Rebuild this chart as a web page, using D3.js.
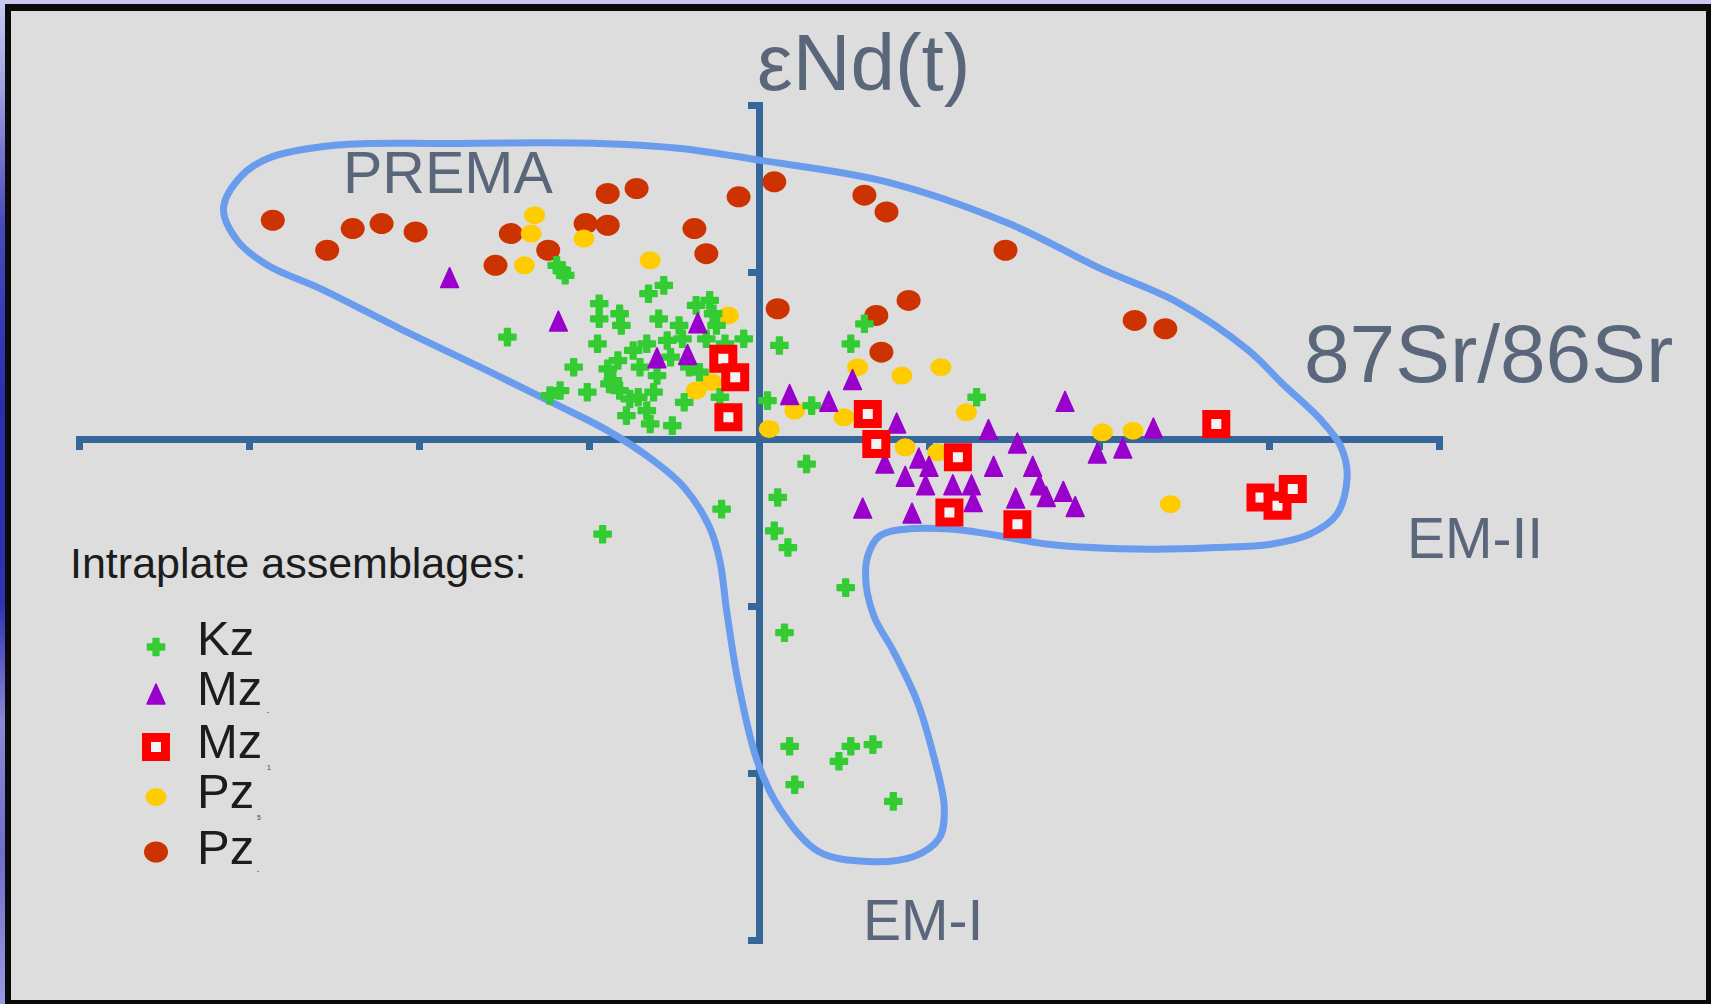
<!DOCTYPE html>
<html>
<head>
<meta charset="utf-8">
<script src="https://cdn.jsdelivr.net/npm/d3@7"></script>
<style>
  html, body { margin: 0; padding: 0; overflow: hidden; background: #2a2aae; }
  svg { display: block; }
  text { font-family: "Liberation Sans", Arial, Helvetica, sans-serif; }
</style>
</head>
<body>
<svg id="chart" width="1711" height="1004"></svg>
<script>
// ---- data: [Sr-isotope deviation, εNd(t)] for each assemblage ----
const kzPoints = [
  [-11.9,10.4],[-11.6,10.1],[-11.4,9.8],[-14.8,6.1],[-9.4,8.1],[-9.4,7.2],[-8.2,7.5],[-8.1,6.8],
  [-6.5,8.7],[-5.6,9.2],[-5.9,7.2],[-4.7,6.8],[-3.7,8.0],[-2.9,8.3],[-2.7,7.5],[-2.5,6.8],
  [-3.1,6.0],[-2.0,5.7],[-0.9,6.0],[-9.5,5.7],[-7.4,5.3],[-6.6,5.7],[-5.4,5.9],[-4.5,6.0],
  [-5.2,4.9],[-8.3,4.7],[-8.9,4.2],[-10.9,4.3],[-7.0,4.3],[-6.0,3.8],[-4.1,4.3],[-3.5,4.0],
  [-8.6,3.5],[-8.2,2.9],[-8.8,3.3],[-10.1,2.8],[-11.7,2.9],[-12.3,2.6],[-7.6,2.4],[-7.1,2.5],
  [-6.2,2.8],[-7.8,1.4],[-6.6,1.7],[-6.4,0.9],[-5.1,0.8],[-4.4,2.2],[-2.3,2.5],[0.5,2.3],
  [1.2,5.6],[5.4,5.7],[6.2,6.9],[3.1,2.0],[12.8,2.5],[2.8,-1.5],[-2.2,-4.2],[-9.2,-5.7],
  [1.1,-3.5],[0.9,-5.5],[1.7,-6.5],[5.1,-8.9],[1.5,-11.6],[1.8,-18.4],[5.4,-18.4],[6.7,-18.3],
  [4.7,-19.3],[2.1,-20.7],[7.9,-21.7]
];
const mzTrianglePoints = [
  [-18.2,9.6],[-11.8,7.0],[-3.6,6.9],[-6.0,4.8],[-4.2,5.0],[1.8,2.6],[4.1,2.2],[5.5,3.5],
  [8.1,0.9],[7.4,-1.5],[8.6,-2.3],[9.4,-1.2],[10.0,-1.7],[9.8,-2.8],[11.4,-2.8],[12.5,-2.8],
  [12.6,-3.8],[13.5,0.5],[13.8,-1.7],[15.2,-0.3],[16.1,-1.7],[16.5,-2.8],[16.9,-3.5],[17.9,-3.2],
  [18.6,-4.1],[15.1,-3.6],[9.0,-4.5],[6.1,-4.2],[18.0,2.2],[19.9,-0.9],[21.4,-0.6],[23.2,0.6]
];
const mzSquarePoints = [
  [-2.1,4.8],[-1.4,3.7],[-1.8,1.3],[6.4,1.5],[6.9,-0.3],[11.7,-1.1],[11.2,-4.4],[15.2,-5.1],
  [26.9,0.9],[29.5,-3.5],[30.5,-4.0],[31.4,-3.0]
];
const pzYellowPoints = [
  [-13.2,13.4],[-13.4,12.3],[-13.8,10.4],[-10.3,12.0],[-6.4,10.7],[-1.8,7.4],[5.8,4.3],[8.4,3.8],
  [10.7,4.3],[12.2,1.6],[2.1,1.7],[5.0,1.3],[0.6,0.6],[8.6,-0.5],[10.5,-0.8],[20.2,0.4],
  [22.0,0.5],[24.2,-3.9],[-3.7,2.9],[-2.8,3.4]
];
const pzRedPoints = [
  [-28.6,13.1],[-25.4,11.3],[-23.9,12.6],[-22.2,12.9],[-20.2,12.4],[-15.5,10.4],[-14.6,12.3],[-12.4,11.3],
  [-10.2,12.9],[-8.9,12.8],[-8.9,14.7],[-7.2,15.0],[-3.8,12.6],[-3.1,11.1],[-1.2,14.5],[0.9,15.4],
  [6.2,14.6],[7.5,13.6],[14.5,11.3],[1.1,7.8],[8.8,8.3],[6.9,7.4],[7.2,5.2],[22.1,7.1],[23.9,6.6]
];

// outline of the mantle array field (PREMA lobe, EM-I tail, EM-II lobe)
const fieldOutline = [
  [-31.5,13.8],[-30.5,15.7],[-28.9,16.8],[-24.8,17.6],[-18.2,17.7],[-9.4,17.7],[-4.6,17.4],[0,16.7],
  [7.5,15.4],[14.7,12.9],[20.1,10.2],[24.6,8.2],[28.8,5.3],[30.8,3.3],[33.0,1.2],[34.2,-0.4],
  [34.6,-2.2],[34.0,-4.5],[32.4,-5.7],[30.1,-6.3],[26.9,-6.5],[23.0,-6.6],[17.0,-6.3],[13.6,-5.7],
  [11.4,-5.4],[8.6,-5.4],[7.1,-5.8],[6.4,-7.0],[6.3,-8.7],[6.8,-10.7],[7.9,-12.7],[9.3,-15.7],
  [10.2,-18.7],[10.9,-22.1],[10.6,-23.9],[9.1,-25.0],[6.4,-25.3],[3.5,-24.7],[1.2,-22.1],[-0.1,-19.3],
  [-1.2,-14.7],[-1.9,-10.3],[-2.3,-7.3],[-2.9,-5.3],[-4.4,-2.9],[-6.2,-1.3],[-8.9,0.5],[-12.0,2.1],
  [-16.4,4.3],[-21.1,6.6],[-25.8,9.0],[-28.9,10.4],[-30.7,11.9]
];

const xTicks = [-40, -30, -20, -10, 0, 10, 20, 30, 40];
const yTicks = [20, 10, -10, -20, -30];
const legendLabels = ["Kz", "Mz", "Mz", "Pz", "Pz"];
const legendNotes = ["", "ˆ", "1", "5", "ˆ"];

// ---- layout ----
const W = 1711, H = 1004;
const svg = d3.select("#chart");

const x = d3.scaleLinear().domain([-40, 40]).range([79, 1439]);
const y = d3.scaleLinear().domain([-30, 20]).range([940, 105]);

// slide frame
const defs = svg.append("defs");
const grad = defs.append("linearGradient").attr("id", "frameGrad")
  .attr("x1", 0).attr("y1", 0).attr("x2", 0).attr("y2", 1);
[["0%", "#c8c8f2"], ["8%", "#a4a4e4"], ["22%", "#4a4abf"], ["40%", "#2c2cb0"], ["60%", "#3030b2"],
 ["72%", "#8a8ad8"], ["85%", "#6e6ecc"], ["100%", "#9a9ae0"]]
  .forEach(([o, c]) => grad.append("stop").attr("offset", o).attr("stop-color", c));

svg.append("rect").attr("width", W).attr("height", H).attr("fill", "url(#frameGrad)");
svg.append("rect").attr("x", 5).attr("y", 4).attr("width", W - 5).attr("height", H - 4).attr("fill", "#0a0a0a");
svg.append("rect").attr("x", 11).attr("y", 11).attr("width", 1695).attr("height", 989).attr("fill", "#dddddd");

// ---- axes ----
const axisColor = "#35679a";
const gx = svg.append("g").attr("transform", `translate(0,${y(0)})`)
  .call(d3.axisBottom(x).tickValues(xTicks).tickSize(11).tickSizeOuter(11).tickFormat(""));
const gy = svg.append("g").attr("transform", `translate(${x(0)},0)`)
  .call(d3.axisLeft(y).tickValues(yTicks).tickSize(11).tickSizeOuter(11).tickFormat(""));
[gx, gy].forEach(g => {
  g.select(".domain").attr("stroke", axisColor).attr("stroke-width", 7).attr("fill", "none");
  g.selectAll(".tick line").attr("stroke", axisColor).attr("stroke-width", 7);
});

// ---- field outline ----
const outline = d3.line()
  .x(d => x(d[0])).y(d => y(d[1]))
  .curve(d3.curveCatmullRomClosed.alpha(0.5));
svg.append("path").datum(fieldOutline)
  .attr("d", outline)
  .attr("fill", "none").attr("stroke", "#6a9cee").attr("stroke-width", 7)
  .attr("stroke-linejoin", "round");

// ---- marker shapes ----
const tallTriangle = {
  draw(context, size) {
    const s = Math.sqrt(size);
    context.moveTo(0, -0.58 * s);
    context.lineTo(0.47 * s, 0.47 * s);
    context.lineTo(-0.47 * s, 0.47 * s);
    context.closePath();
  }
};
const crossPath = d3.symbol(d3.symbolCross, 160)();
const trianglePath = d3.symbol(tallTriangle, 361)();
const squarePath = d3.symbol(d3.symbolSquare, 361)();

const marks = {
  pzRed: (g) => g.append("ellipse").attr("rx", 12).attr("ry", 10.5).attr("fill", "#cc3300"),
  pzYellow: (g) => g.append("ellipse").attr("rx", 10.5).attr("ry", 9).attr("fill", "#ffcc00"),
  kz: (g) => g.append("path").attr("d", crossPath).attr("fill", "#33cc33")
    .attr("stroke", "#33cc33").attr("stroke-width", 1.6).attr("stroke-linejoin", "round"),
  mzTri: (g) => g.append("path").attr("d", trianglePath).attr("fill", "#9900cc")
    .attr("stroke", "#9900cc").attr("stroke-width", 1.5).attr("stroke-linejoin", "round"),
  mzSq: (g) => g.append("path").attr("d", squarePath).attr("fill", "#f4f4f4")
    .attr("stroke", "#ff0000").attr("stroke-width", 9)
};

function drawSeries(points, kind) {
  const g = svg.append("g");
  g.selectAll("g").data(points).join("g")
    .attr("transform", d => `translate(${x(d[0])},${y(d[1])})`)
    .each(function () { marks[kind](d3.select(this)); });
}
drawSeries(pzRedPoints, "pzRed");
drawSeries(pzYellowPoints, "pzYellow");
drawSeries(kzPoints, "kz");
drawSeries(mzTrianglePoints, "mzTri");
drawSeries(mzSquarePoints, "mzSq");

// ---- labels ----
const labelColor = "#5a667a";
svg.append("text").attr("x", 757).attr("y", 90).attr("font-size", 80).attr("fill", labelColor).text("εNd(t)");
svg.append("text").attr("x", 1304).attr("y", 382).attr("font-size", 82).attr("fill", labelColor).text("87Sr/86Sr");
svg.append("text").attr("x", 343).attr("y", 193).attr("font-size", 59).attr("fill", labelColor).text("PREMA");
svg.append("text").attr("x", 1407).attr("y", 558).attr("font-size", 57).attr("fill", labelColor).text("EM-II");
svg.append("text").attr("x", 863).attr("y", 940).attr("font-size", 57).attr("fill", labelColor).text("EM-I");

// ---- legend ----
svg.append("text").attr("x", 70).attr("y", 578).attr("font-size", 43).attr("fill", "#1c1c1c")
  .text("Intraplate assemblages:");
const legendKinds = ["kz", "mzTri", "mzSq", "pzYellow", "pzRed"];
const legendMarkY = [647, 695, 747, 797, 852];
const legendTextY = [655, 705, 758, 808, 864];
legendKinds.forEach((k, i) => {
  const g = svg.append("g").attr("transform", `translate(156,${legendMarkY[i]})`);
  marks[k](g);
  svg.append("text").attr("x", 197).attr("y", legendTextY[i]).attr("font-size", 49)
    .attr("fill", "#1c1c1c").text(legendLabels[i]);
  if (legendNotes[i]) {
    svg.append("text").attr("x", 197 + (legendLabels[i] === "Mz" ? 70 : 60)).attr("y", legendTextY[i] + 12)
      .attr("font-size", 7).attr("fill", "#444").text(legendNotes[i]);
  }
});
</script>
</body>
</html>
